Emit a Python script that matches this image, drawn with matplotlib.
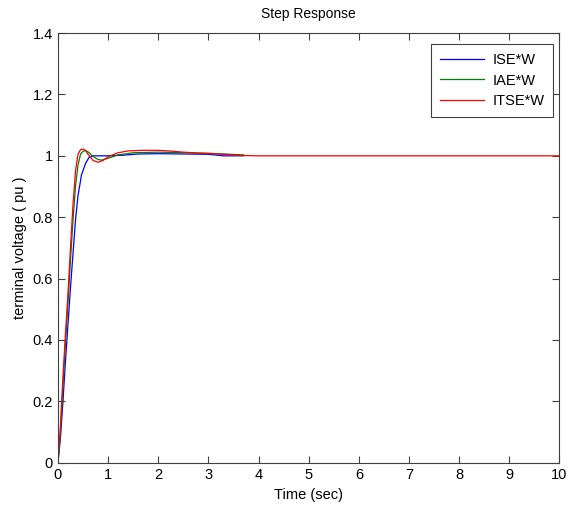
import numpy as np
import matplotlib
matplotlib.use("Agg")
import matplotlib.pyplot as plt

plt.rcParams['font.family'] = ['Liberation Sans', 'DejaVu Sans']

# ISE*W response
t_ise = [0, 0.05, 0.1, 0.15, 0.2, 0.25, 0.3, 0.35, 0.4, 0.47, 0.55, 0.62, 0.7,
         1.0, 1.3, 1.6, 2.0, 2.5, 3.0, 3.3, 3.5, 3.7]
y_ise = [0, 0.08, 0.2, 0.33, 0.45, 0.57, 0.68, 0.79, 0.87, 0.938, 0.975, 0.995, 1.0,
         1.0, 1.002, 1.006, 1.007, 1.006, 1.005, 1.0, 1.0, 1.0]

# IAE*W response
t_iae = [0, 0.05, 0.1, 0.15, 0.2, 0.25, 0.3, 0.35, 0.4, 0.45, 0.5, 0.55, 0.6,
         0.7, 0.8, 0.87, 1.0, 1.2, 1.5, 2.0, 2.5, 3.0, 3.3, 3.7]
y_iae = [0, 0.1, 0.25, 0.39, 0.52, 0.66, 0.79, 0.9, 0.97, 1.005, 1.015, 1.017, 1.013,
         0.998, 0.988, 0.986, 0.992, 1.003, 1.01, 1.012, 1.01, 1.008, 1.006, 1.003]

# ITSE*W response
t_itse = [0, 0.05, 0.1, 0.15, 0.2, 0.25, 0.3, 0.35, 0.4, 0.45, 0.5, 0.55, 0.6,
          0.7, 0.8, 0.9, 1.0, 1.2, 1.4, 1.7, 2.0, 2.2, 2.5, 2.8, 3.0, 3.3, 3.7, 4.0, 10.0]
y_itse = [0, 0.12, 0.28, 0.42, 0.55, 0.70, 0.84, 0.95, 1.005, 1.02, 1.022, 1.018, 1.005,
          0.985, 0.979, 0.985, 0.997, 1.01, 1.016, 1.018, 1.018, 1.016, 1.012, 1.009,
          1.008, 1.005, 1.001, 1.0, 1.0]

labels = ['ISE*W', 'IAE*W', 'ITSE*W']
colors = ['#0000ff', '#008000', '#ff0000']

fig = plt.figure(figsize=(5.68, 5.09), dpi=100)
ax = fig.add_axes([0.102, 0.091, 0.883, 0.844])

for t, y, lab, c in zip([t_ise, t_iae, t_itse], [y_ise, y_iae, y_itse], labels, colors):
    ax.plot(t, y, color=c, lw=0.9, label=lab)

ax.set_xlim(0, 10)
ax.set_ylim(0, 1.4)
ax.set_xticks(np.arange(0, 11, 1))
ax.set_yticks(np.arange(0, 1.41, 0.2))
ax.set_yticklabels(['0', '0.2', '0.4', '0.6', '0.8', '1', '1.2', '1.4'])
ax.tick_params(direction='in', top=True, right=True, labelsize=10.5, length=5, color='#404040')
for s in ax.spines.values():
    s.set_color('#404040')
    s.set_linewidth(0.8)

ax.set_title('Step Response', fontsize=10, pad=11)
ax.set_xlabel('Time (sec)', fontsize=10.5, labelpad=5)
ax.set_ylabel('terminal voltage ( pu )', fontsize=10.5)

leg = ax.legend(loc='upper right', bbox_to_anchor=(0.988, 0.974), fontsize=10.5,
                fancybox=False, framealpha=1, edgecolor='#404040',
                handlelength=3.0, handletextpad=0.6, borderpad=0.6,
                labelspacing=0.45, borderaxespad=0)
leg.get_frame().set_linewidth(0.8)

fig.savefig('out.png', dpi=100)
